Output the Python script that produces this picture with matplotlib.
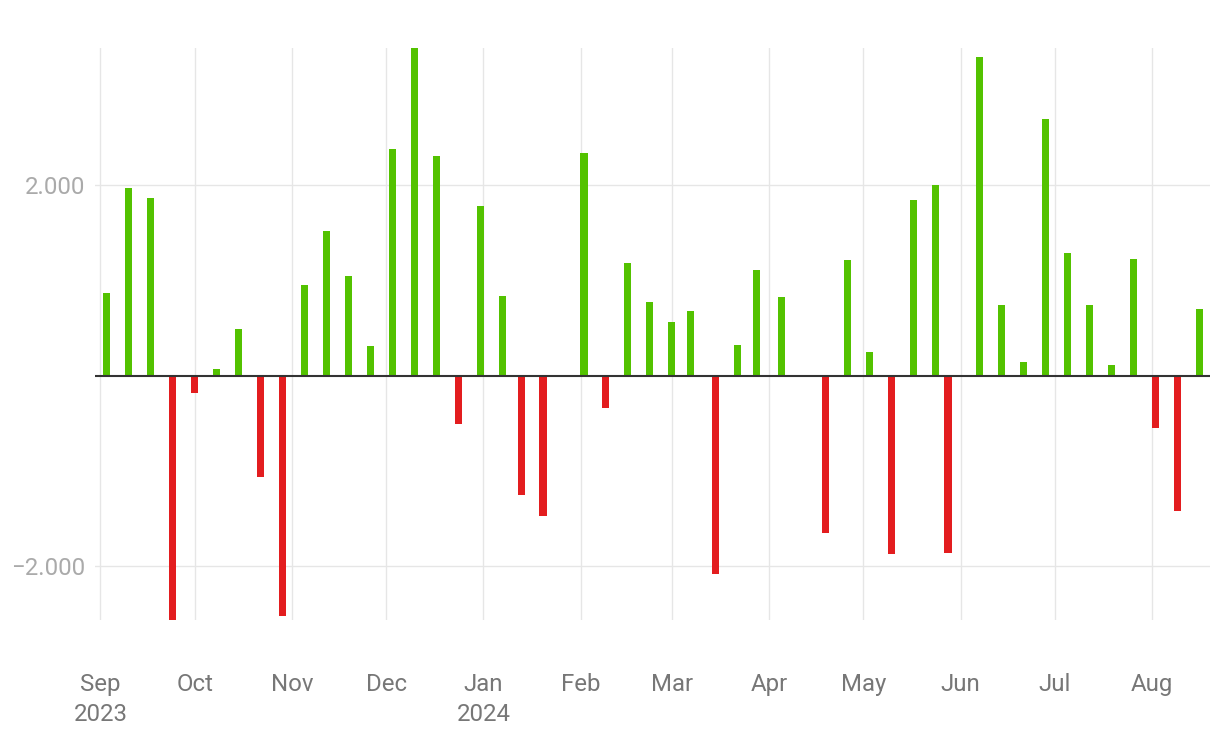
import datetime as dt
import matplotlib
matplotlib.use("Agg")
import matplotlib.pyplot as plt
import matplotlib.dates as mdates
from matplotlib.ticker import FuncFormatter

plt.rcParams['font.family'] = ['Roboto', 'DejaVu Sans']

dates = [
    "2023-09-03", "2023-09-10", "2023-09-17", "2023-09-24", "2023-10-01",
    "2023-10-08", "2023-10-15", "2023-10-22", "2023-10-29", "2023-11-05",
    "2023-11-12", "2023-11-19", "2023-11-26", "2023-12-03", "2023-12-10",
    "2023-12-17", "2023-12-24", "2023-12-31", "2024-01-07", "2024-01-13",
    "2024-01-20", "2024-02-02", "2024-02-09", "2024-02-16", "2024-02-23",
    "2024-03-01", "2024-03-07", "2024-03-15", "2024-03-22", "2024-03-28",
    "2024-04-05", "2024-04-19", "2024-04-26", "2024-05-03", "2024-05-10",
    "2024-05-17", "2024-05-24", "2024-05-28", "2024-06-07", "2024-06-14",
    "2024-06-21", "2024-06-28", "2024-07-05", "2024-07-12", "2024-07-19",
    "2024-07-26", "2024-08-02", "2024-08-09", "2024-08-16",
]
values = [
    874, 1973, 1868, -2568, -182,
    70, 491, -1065, -2525, 953,
    1521, 1048, 312, 2383, 3444,
    2310, -508, 1784, 837, -1253,
    -1474, 2340, -339, 1185, 775,
    565, 680, -2084, 322, 1111,
    827, -1653, 1217, 249, -1874,
    1846, 2004, -1864, 3349, 743,
    144, 2698, 1290, 743, 112,
    1226, -550, -1422, 701,
]
month_ticks = [
    "2023-09-01", "2023-10-01", "2023-11-01", "2023-12-01", "2024-01-01",
    "2024-02-01", "2024-03-01", "2024-04-01", "2024-05-01", "2024-06-01",
    "2024-07-01", "2024-08-01",
]
month_labels = ["Sep\n2023", "Oct", "Nov", "Dec", "Jan\n2024", "Feb", "Mar",
                "Apr", "May", "Jun", "Jul", "Aug"]
y_ticks = [-2000, 2000]

GREEN = "#53c200"
RED = "#e31d1f"

x = [dt.datetime.fromisoformat(d) for d in dates]
xt = [dt.datetime.fromisoformat(d) for d in month_ticks]
colors = [GREEN if v >= 0 else RED for v in values]

fig = plt.figure(figsize=(12.2, 7.44), dpi=100)
ax = fig.add_axes([95 / 1220, 1 - 620 / 744, (1210 - 95) / 1220, (620 - 48) / 744])

ax.bar(x, values, width=2.3, color=colors, zorder=3)
ax.axhline(0, color="#333333", lw=1.5, zorder=4)

ax.set_xlim(dt.datetime(2023, 8, 30, 6), dt.datetime(2024, 8, 19, 11))
ax.set_ylim(min(values), max(values))

ax.set_xticks(xt)
ax.set_xticklabels(month_labels)
ax.set_yticks(y_ticks)
ax.yaxis.set_major_formatter(FuncFormatter(
    lambda v, p: ("\u2212" if v < 0 else "") + f"{abs(int(v)):,}".replace(",", ".")))

ax.grid(True, color="#e6e6e6", lw=1.0, zorder=0)
for s in ax.spines.values():
    s.set_visible(False)
ax.tick_params(axis="x", length=0, pad=38, labelsize=17.3, colors="#777777")
ax.tick_params(axis="y", length=0, pad=7, labelsize=17.3, colors="#aaaaaa")
for lbl in ax.get_xticklabels():
    lbl.set_linespacing(1.38)

fig.savefig("out.png", dpi=100)
